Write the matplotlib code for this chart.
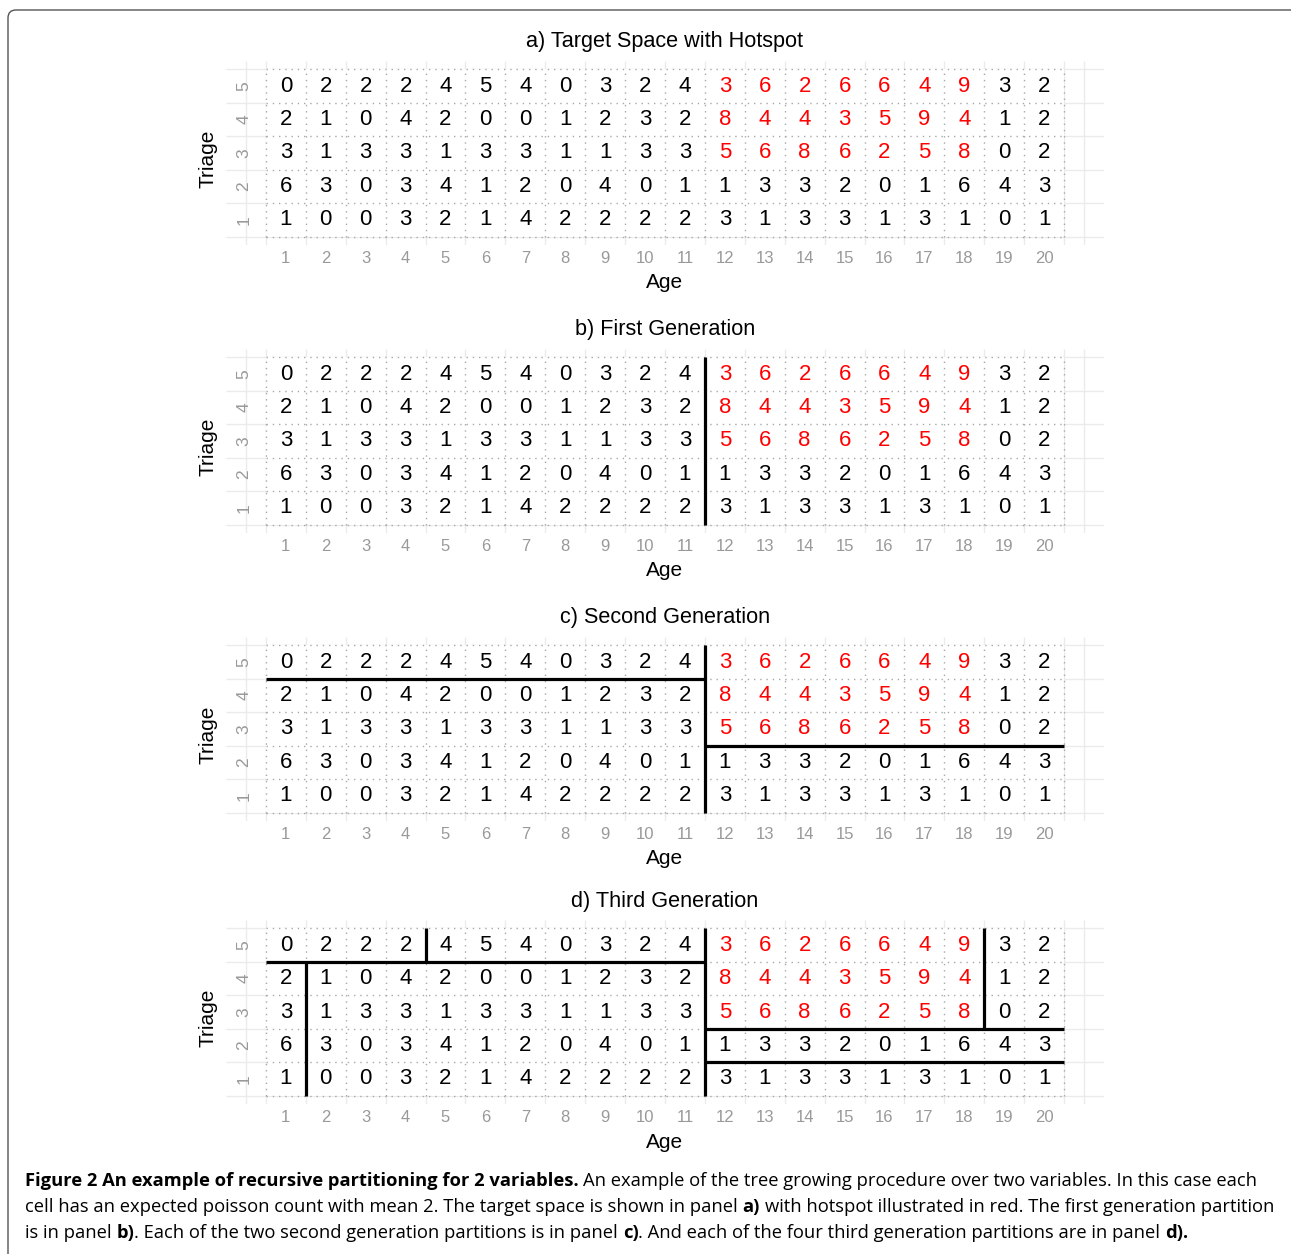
import numpy as np
import matplotlib.pyplot as plt
from matplotlib.patches import Rectangle, FancyBboxPatch
from matplotlib.transforms import IdentityTransform

# cell counts, one list per triage level (1 = bottom row)
ages = list(range(1, 21))
triage = [1, 2, 3, 4, 5]
counts = [
    [1, 0, 0, 3, 2, 1, 4, 2, 2, 2, 2, 3, 1, 3, 3, 1, 3, 1, 0, 1],
    [6, 3, 0, 3, 4, 1, 2, 0, 4, 0, 1, 1, 3, 3, 2, 0, 1, 6, 4, 3],
    [3, 1, 3, 3, 1, 3, 3, 1, 1, 3, 3, 5, 6, 8, 6, 2, 5, 8, 0, 2],
    [2, 1, 0, 4, 2, 0, 0, 1, 2, 3, 2, 8, 4, 4, 3, 5, 9, 4, 1, 2],
    [0, 2, 2, 2, 4, 5, 4, 0, 3, 2, 4, 3, 6, 2, 6, 6, 4, 9, 3, 2],
]
hot_ages = list(range(12, 19))
hot_triage = [3, 4, 5]

titles = ['a) Target Space with Hotspot', 'b) First Generation',
          'c) Second Generation', 'd) Third Generation']

# split lines (x0, x1, y0, y1) between cells
gen1 = [(11.5, 11.5, 0.5, 5.5)]
gen2 = gen1 + [(0.5, 11.5, 4.5, 4.5), (11.5, 20.5, 2.5, 2.5)]
gen3 = gen2 + [(4.5, 4.5, 4.5, 5.5), (1.5, 1.5, 0.5, 4.5),
               (18.5, 18.5, 2.5, 5.5), (11.5, 20.5, 1.5, 1.5)]
splits = [[], gen1, gen2, gen3]

W, H = 1291, 1254
fig = plt.figure(figsize=(W / 100, H / 100), dpi=100)
plt.rcParams['font.family'] = 'Liberation Sans'

tops = [61, 349, 637, 920]
ph = 184
tick_gray = '#999999'

for k in range(4):
    ax = fig.add_axes([226 / W, 1 - (tops[k] + ph) / H, 878 / W, ph / H])
    ax.set_xlim(-0.5, 21.5)
    ax.set_ylim(0.25, 5.75)
    for s in ax.spines.values():
        s.set_visible(False)

    # light background grid
    vx = [0] + [a + 0.5 for a in [0] + ages] + [21]
    ax.vlines(vx, 0.25, 5.75, color='#ebebeb', lw=1, zorder=0)
    ax.hlines([t + 0.5 for t in [0] + triage], -0.5, 21.5, color='#ebebeb', lw=1, zorder=0)

    # white cells with dotted borders
    ax.add_patch(Rectangle((0.5, 0.5), 20, 5, facecolor='white', edgecolor='none', zorder=1))
    ax.vlines([a + 0.5 for a in [0] + ages], 0.5, 5.5, color='#a8a8a8', lw=1.0,
              linestyle=(0, (1, 3.5)), zorder=2)
    ax.hlines([t + 0.5 for t in [0] + triage], 0.5, 20.5, color='#a8a8a8', lw=1.0,
              linestyle=(0, (1, 3.5)), zorder=2)

    for i, t in enumerate(triage):
        for j, a in enumerate(ages):
            c = 'red' if (a in hot_ages and t in hot_triage) else 'black'
            ax.text(a, t, str(counts[i][j]), ha='center', va='center',
                    fontsize=16, color=c, zorder=3)

    for x0, x1, y0, y1 in splits[k]:
        ax.plot([x0, x1], [y0, y1], color='black', lw=2.3, solid_capstyle='butt', zorder=4)

    ax.set_xticks(ages)
    ax.set_xticklabels([str(a) for a in ages])
    ax.tick_params(axis='x', length=0, pad=4.5, labelsize=12, labelcolor=tick_gray)
    ax.set_yticks([])
    for t in triage:
        ax.text(-0.05, t, str(t), rotation=90, ha='center', va='center',
                fontsize=12.5, color=tick_gray)

    ax.text(0.5, 1 + 19 / ph, titles[k], transform=ax.transAxes,
            ha='center', va='center', fontsize=15.6)
    ax.text(0.5, -38 / ph, 'Age', transform=ax.transAxes,
            ha='center', va='center', fontsize=15)
    ax.text(-18 / 878, 0.47, 'Triage', transform=ax.transAxes, rotation=90,
            ha='center', va='center', fontsize=15)

# frame round the figure
frame = FancyBboxPatch((8, -40), 1320, H - 10 + 40, boxstyle='round,pad=0,rounding_size=8',
                       transform=IdentityTransform(), facecolor='none',
                       edgecolor='#555555', lw=1.0)
fig.add_artist(frame)

# caption with mixed bold pieces
SP = None
cap_lines = [
    (1181, [('Figure 2 An example of recursive partitioning for 2 variables.', True), SP,
            ('An example of the tree growing procedure over two variables. In this case each', False)]),
    (1207, [('cell has an expected poisson count with mean 2. The target space is shown in panel', False), SP,
            ('a)', True), SP,
            ('with hotspot illustrated in red. The first generation partition', False)]),
    (1233, [('is in panel', False), SP, ('b)', True),
            ('. Each of the two second generation partitions is in panel', False), SP,
            ('c)', True), ('. And each of the four third generation partitions are in panel', False),
            SP, ('d).', True)]),
]
cap_font = 'Open Sans'
renderer = fig.canvas.get_renderer()


def width_of(txt, bold, size):
    t = fig.text(0, 0, txt, fontsize=size, family=cap_font,
                 fontweight='bold' if bold else 'normal')
    w = t.get_window_extent(renderer).width
    t.remove()
    return w


def line_width(parts, size):
    sp = width_of('a a', False, size) - width_of('aa', False, size)
    return sum(sp if p is None else width_of(p[0], p[1], size) for p in parts)


base = 10.0
cap_size = base * 1233 / line_width(cap_lines[0][1], base)
space_w = width_of('a a', False, cap_size) - width_of('aa', False, cap_size)

for y, parts in cap_lines:
    x = 25
    for p in parts:
        if p is None:
            x += space_w
            continue
        t = fig.text(x / W, 1 - y / H, p[0], fontsize=cap_size, family=cap_font,
                     fontweight='bold' if p[1] else 'normal', ha='left', va='center')
        x += t.get_window_extent(renderer).width

fig.savefig('out.png', dpi=100)
